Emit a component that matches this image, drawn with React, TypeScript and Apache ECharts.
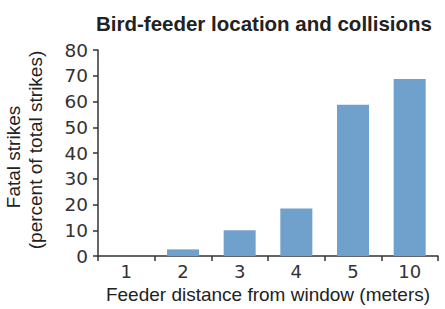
import React, { useEffect, useRef } from "react";
import * as echarts from "echarts";

const categories = ["1", "2", "3", "4", "5", "10"];
const fatalStrikes = [0, 2.6, 10, 18.5, 58.7, 68.7];
const yTicks = { min: 0, max: 80, interval: 10 };
const titleText = "Bird-feeder location and collisions";
const xTitle = "Feeder distance from window (meters)";
const yTitleLines = ["Fatal strikes", "(percent of total strikes)"];

export default function App() {
  const ref = useRef<HTMLDivElement>(null);
  useEffect(() => {
    const chart = echarts.init(ref.current!, undefined, { renderer: "svg" });
    const tickFont = "'DejaVu Sans', sans-serif";
    const labelFont = "'Liberation Sans', Arial, sans-serif";
    chart.setOption({
      animation: false,
      backgroundColor: "#ffffff",
      title: {
        text: titleText,
        left: 264,
        top: 13,
        padding: 0,
        textAlign: "center",
        textStyle: {
          fontFamily: labelFont,
          fontWeight: "bold",
          fontSize: 20.5,
          color: "#222",
        },
      },
      grid: { left: 98, right: 7, top: 50, bottom: 51, containLabel: false },
      xAxis: {
        type: "category",
        data: categories,
        boundaryGap: true,
        axisLine: { lineStyle: { color: "#333", width: 1.5 } },
        axisTick: { show: true, length: 5, alignWithLabel: false, lineStyle: { color: "#333", width: 1.5 } },
        axisLabel: { fontFamily: tickFont, fontSize: 18, color: "#333", margin: 6 },
        name: xTitle,
        nameLocation: "middle",
        nameGap: 22,
        nameTextStyle: { fontFamily: labelFont, fontSize: 19, color: "#222" },
      },
      yAxis: {
        type: "value",
        min: yTicks.min,
        max: yTicks.max,
        interval: yTicks.interval,
        splitLine: { show: false },
        axisLine: { show: true, lineStyle: { color: "#333", width: 1.5 } },
        axisTick: { show: true, length: 5, lineStyle: { color: "#333", width: 1.5 } },
        axisLabel: { fontFamily: tickFont, fontSize: 18.5, color: "#333", margin: 10 },
      },
      graphic: [
        {
          type: "text",
          x: 13,
          y: 157,
          rotation: Math.PI / 2,
          style: {
            text: yTitleLines[0],
            fontFamily: labelFont,
            fontSize: 19,
            fill: "#222",
            textAlign: "center",
            textVerticalAlign: "middle",
          },
        },
        {
          type: "text",
          x: 35,
          y: 150,
          rotation: Math.PI / 2,
          style: {
            text: yTitleLines[1],
            fontFamily: labelFont,
            fontSize: 19,
            fill: "#222",
            textAlign: "center",
            textVerticalAlign: "middle",
          },
        },
      ],
      series: [
        {
          type: "bar",
          data: fatalStrikes,
          barWidth: 32,
          itemStyle: { color: "#70a0cc" },
        },
      ],
    });
    return () => chart.dispose();
  }, []);
  return <div ref={ref} style={{ width: 445, height: 309, position: "absolute", left: 0, top: 0 }} />;
}
